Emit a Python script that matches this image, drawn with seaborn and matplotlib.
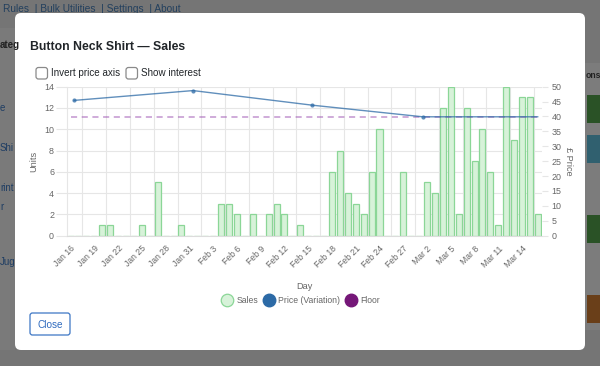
import numpy as np
import pandas as pd
import matplotlib
matplotlib.use("Agg")
import matplotlib.pyplot as plt
import matplotlib.patches as mpatches
import matplotlib.transforms as mtransforms
from matplotlib.lines import Line2D
import seaborn as sns

# data
days = pd.date_range("2025-01-16", "2025-03-16", freq="D")
day_labels = [f"{d:%b} {d.day}" for d in days]
units = [0, 0, 0, 0, 1, 1, 0, 0, 0, 1,
         0, 5, 0, 0, 1, 0, 0, 0, 0, 3,
         3, 2, 0, 2, 0, 2, 3, 2, 0, 1,
         0, 0, 0, 6, 8, 4, 3, 2, 6, 10,
         0, 0, 6, 0, 0, 5, 4, 12, 14, 2,
         12, 7, 10, 6, 1, 14, 9, 13, 13, 2]
price_times = ["2025-01-16 10:30", "2025-01-31 11:00", "2025-02-15 12:00",
               "2025-03-01 11:00", "2025-03-16 00:00"]
price_values = [45.4, 48.7, 43.8, 39.9, 39.9]
floor_times = ["2025-01-16", "2025-03-16"]
floor_values = [39.9, 39.9]
tick_every = 3

W, H = 600, 366
GREY_TXT = "#666666"
GRID = "#e6e6e6"

sns.set_theme(style="white")
plt.rcParams["font.family"] = ["Liberation Sans", "DejaVu Sans"]

fig = plt.figure(figsize=(W / 100, H / 100), dpi=100)
fig.patch.set_facecolor("#757575")
px = mtransforms.IdentityTransform()


def box(x0, y0, x1, y1, fc, ec="none", r=0, lw=1, z=0):
    # pixel coords measured from the top-left corner
    p = mpatches.FancyBboxPatch((x0, H - y1), x1 - x0, y1 - y0,
                                boxstyle=f"round,pad=0,rounding_size={r}",
                                fc=fc, ec=ec, lw=lw, transform=px, zorder=z)
    fig.add_artist(p)


def txt(x, y, s, **kw):
    fig.text(x / W, 1 - y / H, s, **kw)


# page behind the dialog (dimmed)
txt(3, 9, "Rules  | Bulk Utilities  | Settings  | About", fontsize=7.3,
    color="#23405e", va="center", zorder=0)
box(0, 28, 15, 350, "#7a7a7a", z=0)
txt(0, 45, "ateg", fontsize=7, color="#222222", va="center", weight="bold")
for y, s in [(108, "e"), (148, "Shi"), (188, "rint"), (207, "r"), (262, "Jug")]:
    txt(0, y, s, fontsize=7, color="#1e3d63", va="center")
box(585, 63, 600, 330, "#7c7c7c", z=0)
txt(586, 75, "ons", fontsize=6.2, color="#222222", va="center", weight="bold")
box(587, 95, 600, 123, "#2a5226", z=0)
box(587, 135, 600, 163, "#30606f", z=0)
box(587, 215, 600, 243, "#2a5226", z=0)
box(587, 295, 600, 323, "#6a3f19", z=0)

# dialog
box(15, 13, 585, 350, "white", r=6, z=1)
txt(30, 46.5, "Button Neck Shirt \u2014 Sales", fontsize=8.8, weight="bold",
    color="#212529", va="center", zorder=2)
for cx, label in [(36, "Invert price axis"), (126, "Show interest")]:
    box(cx, 67.5, cx + 11.5, 79, "white", ec="#8a8a8a", r=2.5, lw=0.9, z=2)
    txt(cx + 15, 73.5, label, fontsize=7.1, color="#212529", va="center", zorder=2)
box(30, 313, 70, 335, "white", ec="#3d76c4", r=2.5, lw=0.9, z=2)
txt(50, 324.5, "Close", fontsize=7.2, color="#2f6bbf", ha="center", va="center", zorder=2)

# chart
left, right, top, bottom = 66.6, 541.9, 86.7, 235.7
ax = fig.add_axes([left / W, 1 - bottom / H, (right - left) / W, (bottom - top) / H])
ax.set_zorder(3)
ax.patch.set_alpha(0)

sales = pd.DataFrame({"day": day_labels, "units": units})
sns.barplot(data=sales, x="day", y="units", ax=ax, order=day_labels,
            color="#d7f2d9", saturation=1, edgecolor="#8bd697", linewidth=0.9,
            width=0.76, errorbar=None, zorder=2)

n = len(day_labels)
ax.set_xlim(-0.5, n - 0.5)
ax.set_ylim(0, 14)
ax.set_yticks(range(0, 15, 2))
major = list(range(0, n, tick_every))
ax.set_xticks(major)
ax.set_xticklabels([day_labels[i] for i in major], rotation=45, ha="right",
                   rotation_mode="anchor")
ax.set_xticks([i + 1.5 for i in major], minor=True)
ax.tick_params(axis="x", which="major", length=0, pad=6, labelsize=6.2, labelcolor=GREY_TXT)
ax.tick_params(axis="x", which="minor", length=5, width=0.8, color=GRID)
ax.tick_params(axis="y", length=8, width=0.8, color=GRID, pad=1, labelsize=6.4,
               labelcolor=GREY_TXT)
ax.grid(False)
ax.xaxis.grid(True, which="minor", color=GRID, lw=0.8)
ax.yaxis.grid(True, color=GRID, lw=0.8)
ax.set_axisbelow(True)
for s in ["top", "right"]:
    ax.spines[s].set_visible(False)
ax.spines["left"].set_color(GRID)
ax.spines["bottom"].set_color("#dcdcdc")
for s in ["left", "bottom"]:
    ax.spines[s].set_linewidth(0.8)
ax.set_xlabel("Day", fontsize=6.6, color=GREY_TXT)
ax.set_ylabel("Units", fontsize=6.6, color=GREY_TXT)
ax.xaxis.set_label_coords(0.5, (bottom - 282) / (bottom - top))
ax.yaxis.set_label_coords((38 - left) / (right - left), 0.5)

ax2 = ax.twinx()
t0 = days[0]
price_x = [(pd.Timestamp(t) - t0) / pd.Timedelta(days=1) for t in price_times]
floor_x = [(pd.Timestamp(t) - t0) / pd.Timedelta(days=1) for t in floor_times]
sns.lineplot(x=floor_x, y=floor_values, ax=ax2, color="#9b4fb0", alpha=0.6,
             lw=1.1, linestyle="--")
ax2.lines[-1].set_dashes([4, 3])
sns.lineplot(x=price_x, y=price_values, ax=ax2, color="#2c6aa6", alpha=0.75, lw=1,
             marker="o", markersize=3, markevery=[0, 1, 2, 3], markeredgewidth=0)
ax2.set_xlim(-0.5, n - 0.5)
ax2.set_ylim(0, 50)
ax2.set_yticks(range(0, 51, 5))
ax2.tick_params(axis="y", length=4, width=0.8, color=GRID, pad=3, labelsize=6.4,
                labelcolor=GREY_TXT)
for s in ax2.spines.values():
    s.set_visible(False)
ax2.grid(False)
ax2.set_ylabel("\u00a3 Price", fontsize=6.6, color=GREY_TXT, rotation=270,
               va="center", ha="center")
ax2.yaxis.set_label_coords((569 - left) / (right - left), 0.5)

handles = [
    Line2D([], [], ls="", marker="o", ms=9, mfc="#d7f2d9", mec="#8bd697", mew=0.9),
    Line2D([], [], ls="", marker="o", ms=9, mfc="#2c6aa6", mec="#2c6aa6"),
    Line2D([], [], ls="", marker="o", ms=9, mfc="#751778", mec="#751778"),
]
leg = fig.legend(handles, ["Sales", "Price (Variation)", "Floor"], loc="center",
                 bbox_to_anchor=(300 / W, 1 - 300.5 / H), ncol=3, frameon=False,
                 fontsize=6.2, handletextpad=0.3, columnspacing=0.4, handlelength=1.6)
for t in leg.get_texts():
    t.set_color(GREY_TXT)
leg.set_zorder(4)

fig.savefig("out.png", dpi=100)
